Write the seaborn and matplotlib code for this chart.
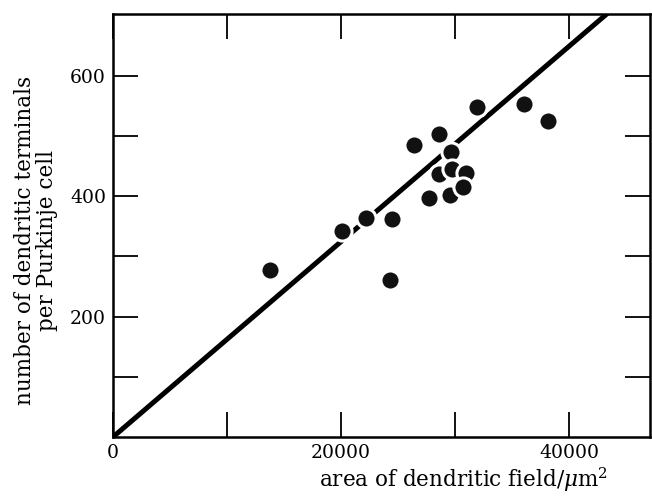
import matplotlib
matplotlib.use("Agg")
import matplotlib.pyplot as plt
import seaborn as sns
import pandas as pd
from matplotlib.ticker import FixedLocator

# data
area = [13770, 20120, 22190, 24440, 24300, 26400, 27720, 28570, 29680,
        28620, 29740, 30940, 29560, 30730, 31900, 36050, 38130]
terminals = [278, 342, 364, 363, 261, 485, 397, 504, 474,
             437, 445, 438, 402, 416, 548, 553, 525]
fit_x = [0, 47000]
fit_y = [0, 763]

x_ticks = [0, 10000, 20000, 30000, 40000]
x_labels = ["0", "", "20000", "", "40000"]
y_ticks = [100, 200, 300, 400, 500, 600]
y_labels = ["", "200", "", "400", "", "600"]

sns.set_style("white")
plt.rcParams["font.family"] = ["DejaVu Serif"]
plt.rcParams["mathtext.fontset"] = "dejavuserif"
plt.rcParams["text.color"] = "black"
plt.rcParams["axes.labelcolor"] = "black"

fig = plt.figure(figsize=(6.52, 4.96), dpi=100)
ax = fig.add_axes([113/652, 1 - 437/496, (650 - 113)/652, (437 - 14)/496])

df = pd.DataFrame({"x": area, "y": terminals})
fit = pd.DataFrame({"x": fit_x, "y": fit_y})
sns.lineplot(data=fit, x="x", y="y", ax=ax, color="black", linewidth=3.6,
             zorder=2, solid_capstyle="butt")
sns.scatterplot(data=df, x="x", y="y", ax=ax, color="#111111", s=190,
                edgecolor="white", linewidth=2.2, zorder=3)

ax.set_xlim(0, 47100)
ax.set_ylim(0, 703)
ax.xaxis.set_major_locator(FixedLocator(x_ticks))
ax.set_xticklabels(x_labels)
ax.yaxis.set_major_locator(FixedLocator(y_ticks))
ax.set_yticklabels(y_labels)
ax.tick_params(direction="in", length=18, width=1.3, top=True, right=True,
               bottom=True, left=True, labelsize=13.5, pad=5, colors="black")
for sp in ax.spines.values():
    sp.set_linewidth(1.8)
    sp.set_color("black")

ax.set_xlabel("area of dendritic field/$\\mu$m$^2$", fontsize=15.5)
ax.set_ylabel("number of dendritic terminals\nper Purkinje cell", fontsize=15.5,
              linespacing=1.0)
ax.xaxis.set_label_coords(0.652, -0.066)
ax.yaxis.set_label_coords(-0.102, 0.465)

fig.savefig("out.png", dpi=100)
